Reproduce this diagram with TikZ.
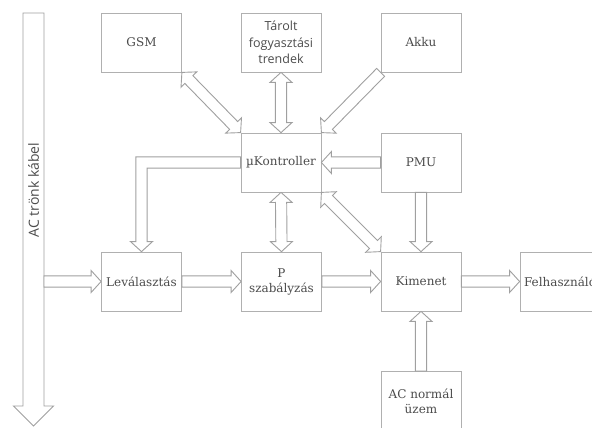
\documentclass[tikz,border=0pt]{standalone}
\usepackage{fontspec}
\setmainfont{DejaVu Serif}
\newfontfamily\osans{Open Sans}
\usetikzlibrary{calc,shadows}
\definecolor{boxline}{HTML}{B0B0B0}
\definecolor{arrline}{HTML}{A0A0A0}
\definecolor{txt}{HTML}{4C4C4C}
\def\sw{5.6pt}\def\hw{11pt}\def\hl{10pt}
\newcommand{\sarr}[2]{%
  \coordinate (q0) at (#1); \coordinate (q1) at (#2);
  \coordinate (qc) at ($(q1)!\hl!(q0)$);
  \draw[blk] ($(q0)!\sw!90:(q1)$) -- ($(qc)!\sw!90:(q1)$) -- ($(qc)!\hw!90:(q1)$) -- (q1)
    -- ($(qc)!\hw!-90:(q1)$) -- ($(qc)!\sw!-90:(q1)$) -- ($(q0)!\sw!-90:(q1)$) -- cycle;}
\newcommand{\darr}[2]{%
  \coordinate (q0) at (#1); \coordinate (q1) at (#2);
  \coordinate (qc) at ($(q1)!\hl!(q0)$); \coordinate (qd) at ($(q0)!\hl!(q1)$);
  \draw[blk] (q0) -- ($(qd)!\hw!90:(q1)$) -- ($(qd)!\sw!90:(q1)$) -- ($(qc)!\sw!90:(q1)$)
    -- ($(qc)!\hw!90:(q1)$) -- (q1) -- ($(qc)!\hw!-90:(q1)$) -- ($(qc)!\sw!-90:(q1)$)
    -- ($(qd)!\sw!-90:(q1)$) -- ($(qd)!\hw!-90:(q1)$) -- cycle;}
\tikzset{
  box/.style={draw=boxline, line width=0.8pt, fill=white, minimum width=80pt, minimum height=59pt,
    inner sep=0pt, align=center, text=txt, font=\fontsize{12}{15}\selectfont,
    drop shadow={shadow xshift=0.7pt, shadow yshift=-0.7pt, opacity=0.25, fill=gray}},
  blk/.style={draw=arrline, line width=0.9pt, fill=white, line join=miter}
}
\begin{document}
\begin{tikzpicture}[x=1pt,y=1pt]
\useasboundingbox (0,0) rectangle (592,-428);
\clip (0,0) rectangle (592,-428);
\fill[white] (0,0) rectangle (592,-428);
% boxes
\node[box] (gsm) at (141.5,-42.5) {GSM};
\node[box, font=\osans\fontsize{12.5}{16.5}\selectfont] (tar) at (281,-42.5) {Tárolt\\fogyasztási\\trendek};
\node[box] (akku) at (421,-42.5) {Akku};
\node[box] (uk) at (281,-162.5) {µKontroller};
\node[box] (pmu) at (421,-162.5) {PMU};
\node[box] (lev) at (141.5,-281.5) {Leválasztás};
\node[box] (psz) at (281.5,-281.5) {P\\szabályzás};
\node[box] (kim) at (421,-281.5) {Kimenet};
\node[box] (fel) at (560,-281.5) {Felhasználó};
\node[box] (acn) at (421,-401) {AC normál\\üzem};
% AC cable
\coordinate (cabtop) at (33.5,-13);
\coordinate (cabbot) at (33.5,-426);
{\def\sw{10.5pt}\def\hw{20pt}\def\hl{20pt}\sarr{cabtop}{cabbot}}
\node[rotate=90, text=txt, font=\osans\fontsize{14}{16}\selectfont] (cabtxt) at (33.5,-190) {AC trönk kábel};
\coordinate (cabR) at ($(lev.west -| cabtop)+(10.5,0)$);
% connectors
\sarr{cabR}{lev.west}
\sarr{lev.east}{psz.west}
\sarr{psz.east}{kim.west}
\sarr{kim.east}{fel.west}
\darr{gsm.south east}{uk.north west}
\darr{tar.south}{uk.north}
\sarr{akku.south west}{uk.north east}
\sarr{pmu.west}{uk.east}
\sarr{pmu.south}{kim.north}
\darr{uk.south}{psz.north}
\darr{uk.south east}{kim.north west}
\sarr{acn.north}{kim.south}
% L-shaped arrow uK -> Levalasztas
\coordinate (lk) at (lev.north |- uk.west);
\draw[blk] ($(uk.west)+(0,\sw)$) -- ($(lk)+(-\sw,\sw)$) -- ($(lev.north)+(-\sw,\hl)$)
  -- ($(lev.north)+(-\hw,\hl)$) -- (lev.north) -- ($(lev.north)+(\hw,\hl)$)
  -- ($(lev.north)+(\sw,\hl)$) -- ($(lk)+(\sw,-\sw)$) -- ($(uk.west)+(0,-\sw)$) -- cycle;
\end{tikzpicture}
\end{document}
